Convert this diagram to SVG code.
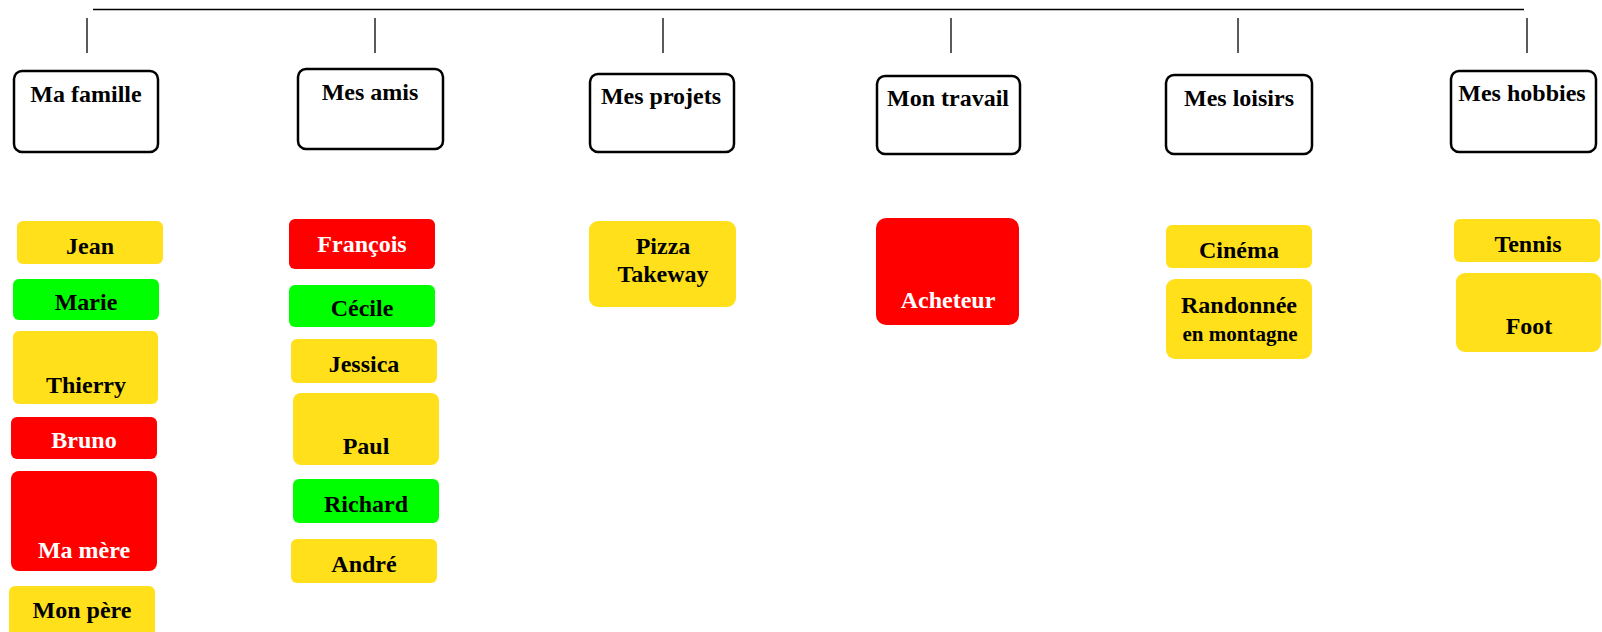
<svg xmlns="http://www.w3.org/2000/svg" width="1602" height="632" viewBox="0 0 1602 632">
<style>
text{font-family:"Liberation Serif","Times New Roman",serif;font-weight:bold;font-size:24px;text-anchor:middle}
.hdr rect{fill:#fff;stroke:#000;stroke-width:2.5}
.y{fill:#FFE01B}
.g{fill:#00FF00}
.r{fill:#FF0000}
.w{fill:#fff}
.k{fill:#000}
.tick{stroke:#5a5a5a;stroke-width:2}
</style>
<rect width="1602" height="632" fill="#fff"/>
<g id="connectors">
<line x1="93" y1="9.5" x2="1524" y2="9.5" stroke="#000" stroke-width="1.6"/>
<line class="tick" x1="87" y1="18" x2="87" y2="53"/>
<line class="tick" x1="375" y1="18" x2="375" y2="53"/>
<line class="tick" x1="663" y1="18" x2="663" y2="53"/>
<line class="tick" x1="951" y1="18" x2="951" y2="53"/>
<line class="tick" x1="1238" y1="18" x2="1238" y2="53"/>
<line class="tick" x1="1527" y1="18" x2="1527" y2="53"/>
</g>
<g id="h-famille" class="hdr"><rect x="14" y="71" width="144" height="81" rx="8"/><text class="k" x="86" y="102">Ma famille</text></g>
<g id="h-amis" class="hdr"><rect x="298" y="69" width="145" height="80" rx="8"/><text class="k" x="370" y="100">Mes amis</text></g>
<g id="h-projets" class="hdr"><rect x="590" y="74" width="144" height="78" rx="8"/><text class="k" x="661" y="104">Mes projets</text></g>
<g id="h-travail" class="hdr"><rect x="877" y="76" width="143" height="78" rx="8"/><text class="k" x="948" y="106">Mon travail</text></g>
<g id="h-loisirs" class="hdr"><rect x="1166" y="75" width="146" height="79" rx="8"/><text class="k" x="1239" y="106">Mes loisirs</text></g>
<g id="h-hobbies" class="hdr"><rect x="1451" y="71" width="145" height="81" rx="8"/><text class="k" x="1522" y="101">Mes hobbies</text></g>

<g id="jean"><rect class="y" x="17" y="221" width="146" height="43" rx="6"/><text class="k" x="90" y="254">Jean</text></g>
<g id="marie"><rect class="g" x="13" y="279" width="146" height="41" rx="6"/><text class="k" x="86" y="310">Marie</text></g>
<g id="thierry"><rect class="y" x="13" y="331" width="145" height="73" rx="6"/><text class="k" x="86" y="393">Thierry</text></g>
<g id="bruno"><rect class="r" x="11" y="417" width="146" height="42" rx="6"/><text class="w" x="84" y="448">Bruno</text></g>
<g id="mamere"><rect class="r" x="11" y="471" width="146" height="100" rx="8"/><text class="w" x="84" y="558">Ma mère</text></g>
<g id="monpere"><rect class="y" x="9" y="586" width="146" height="60" rx="6"/><text class="k" x="82" y="618">Mon père</text></g>

<g id="francois"><rect class="r" x="289" y="219" width="146" height="50" rx="6"/><text class="w" x="362" y="252">François</text></g>
<g id="cecile"><rect class="g" x="289" y="285" width="146" height="42" rx="6"/><text class="k" x="362" y="316">Cécile</text></g>
<g id="jessica"><rect class="y" x="291" y="339" width="146" height="44" rx="6"/><text class="k" x="364" y="372">Jessica</text></g>
<g id="paul"><rect class="y" x="293" y="393" width="146" height="72" rx="8"/><text class="k" x="366" y="454">Paul</text></g>
<g id="richard"><rect class="g" x="293" y="479" width="146" height="44" rx="6"/><text class="k" x="366" y="512">Richard</text></g>
<g id="andre"><rect class="y" x="291" y="539" width="146" height="44" rx="6"/><text class="k" x="364" y="572">André</text></g>

<g id="pizza"><rect class="y" x="589" y="221" width="147" height="86" rx="9"/><text class="k" x="663" y="254">Pizza</text><text class="k" x="663" y="282">Takeway</text></g>

<g id="acheteur"><rect class="r" x="876" y="218" width="143" height="107" rx="10"/><text class="w" x="948" y="308">Acheteur</text></g>

<g id="cinema"><rect class="y" x="1166" y="225" width="146" height="43" rx="6"/><text class="k" x="1239" y="258">Cinéma</text></g>
<g id="randonnee"><rect class="y" x="1166" y="279" width="146" height="80" rx="9"/><text class="k" x="1239" y="313">Randonnée</text><text class="k" x="1240" y="341" style="font-size:21px">en montagne</text></g>

<g id="tennis"><rect class="y" x="1454" y="219" width="146" height="43" rx="6"/><text class="k" x="1528" y="252">Tennis</text></g>
<g id="foot"><rect class="y" x="1456" y="273" width="145" height="79" rx="9"/><text class="k" x="1529" y="334">Foot</text></g>
</svg>
